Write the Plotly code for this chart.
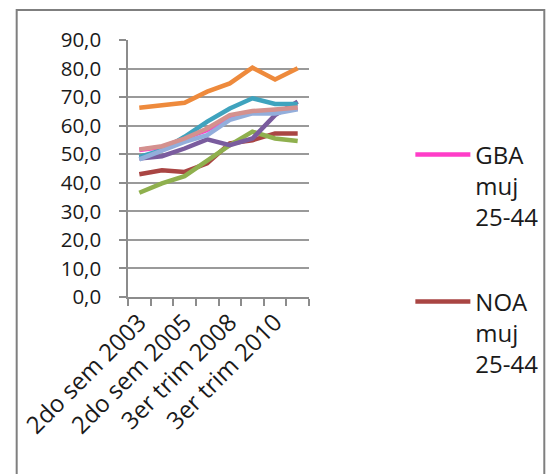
import plotly.graph_objects as go

# Periods (x categories); only every other one gets a printed label
periods = ["2do sem 2003", "2do sem 2004", "2do sem 2005", "2do sem 2006",
           "3er trim 2008", "3er trim 2009", "3er trim 2010", "3er trim 2011"]
labelled = ["2do sem 2003", "2do sem 2005", "3er trim 2008", "3er trim 2010"]

# Activity rates (%) by region, women 25-44
gba_muj = [51.5, 52.5, 55.5, 58.5, 63.0, 64.5, 65.0, 66.0]
noa_muj = [43.0, 44.4, 43.8, 46.8, 53.8, 54.9, 57.3, 57.3]
nea_muj = [36.5, 39.8, 42.3, 47.6, 53.2, 57.9, 55.5, 54.6]
cuyo_muj = [48.5, 49.3, 52.0, 55.2, 53.2, 55.5, 63.7, 68.4]
pamp_muj = [49.1, 51.4, 56.1, 61.4, 66.0, 69.6, 67.6, 67.6]
pat_muj = [66.3, 67.2, 68.0, 71.9, 74.8, 80.3, 76.2, 80.1]
caba_muj = [48.2, 51.4, 54.3, 56.7, 62.0, 64.3, 64.3, 65.7]
total_muj = [51.7, 52.8, 55.5, 59.0, 63.7, 65.1, 65.7, 66.4]

series = [
    ("GBA<br>muj<br>25-44", gba_muj, "#FF3DC8", "legend"),
    ("NOA<br>muj<br>25-44", noa_muj, "#A94543", "legend2"),
    ("NEA muj 25-44", nea_muj, "#8FB04E", None),
    ("Cuyo muj 25-44", cuyo_muj, "#7A5C9E", None),
    ("Pampeana muj 25-44", pamp_muj, "#3FA3BE", None),
    ("Patagonia muj 25-44", pat_muj, "#EE8A3C", None),
    ("CABA muj 25-44", caba_muj, "#93AEDB", None),
    ("Total muj 25-44", total_muj, "#D4918E", None),
]

FONT = "Open Sans"
TEXT = "#1a1a1a"
fig = go.Figure()
for name, vals, color, leg in series:
    fig.add_trace(go.Scatter(
        x=periods, y=vals, mode="lines", name=name,
        line=dict(color=color, width=4.5),
        showlegend=leg is not None,
        legend=leg if leg else "legend",
    ))

fig.update_layout(
    width=555, height=474,
    margin=dict(l=128, r=235, t=40, b=177),
    paper_bgcolor="white", plot_bgcolor="white",
    separators=",.",
    font=dict(family=FONT, size=20, color=TEXT),
    xaxis=dict(
        type="category", range=[-0.5, 7.5],
        tickmode="array", tickvals=periods,
        ticktext=[p if p in labelled else "" for p in periods],
        tickson="boundaries", ticks="outside", ticklen=7,
        tickcolor="#8c8c8c", tickwidth=1.5, tickangle=-45,
        tickfont=dict(family=FONT, size=24, color=TEXT),
        showline=True, linecolor="#8c8c8c", linewidth=1.5,
        showgrid=False, zeroline=False,
    ),
    yaxis=dict(
        range=[0, 90], dtick=10, tickformat=".1f",
        ticks="outside", ticklen=7, tickcolor="#8c8c8c", tickwidth=1.5,
        ticklabelstandoff=14,
        tickfont=dict(family=FONT, size=20.5, color=TEXT),
        showline=True, linecolor="#8c8c8c", linewidth=1.5,
        showgrid=True, gridcolor="#9a9a9a", gridwidth=1.5, zeroline=False,
    ),
    legend=dict(x=1.56, xanchor="left", y=0.64, yanchor="top",
                valign="top", bgcolor="rgba(0,0,0,0)", itemwidth=55,
                font=dict(family=FONT, size=24, color=TEXT)),
    legend2=dict(x=1.56, xanchor="left", y=0.068, yanchor="top",
                 valign="top", bgcolor="rgba(0,0,0,0)", itemwidth=55,
                 font=dict(family=FONT, size=24, color=TEXT)),
    shapes=[dict(type="rect", xref="paper", yref="paper",
                 x0=-0.615, x1=2.3, y0=-0.75, y1=1.117,
                 line=dict(color="#7f7f7f", width=2), layer="below")],
)

fig.write_html("out.html")
